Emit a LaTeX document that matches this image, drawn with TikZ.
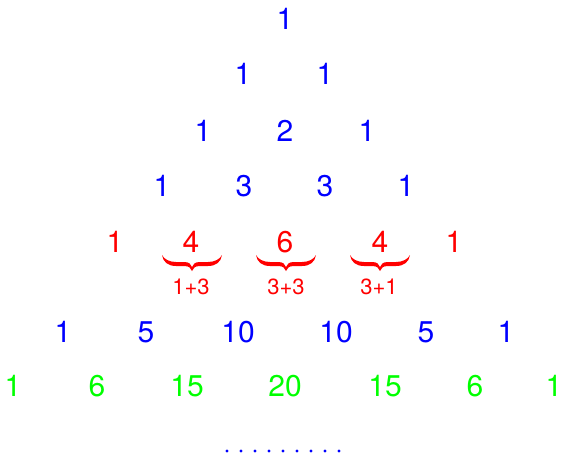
\documentclass[tikz,border=0pt]{standalone}
\usepackage{fontspec}
\setmainfont{TeX Gyre Heros}
\begin{document}
\begin{tikzpicture}[x=1pt,y=-1pt,
  num/.style={anchor=base,inner sep=0pt,font=\fontsize{30}{36}\selectfont},
  bl/.style={num,text=blue},
  rd/.style={num,text=red},
  gr/.style={num,text=green},
  sub/.style={anchor=base,inner sep=0pt,text=red,font=\fontsize{22}{26}\selectfont},
  ubrace/.pic={\fill[red] (-30,0) .. controls (-29,7) and (-24,11) .. (-16,11) -- (-8,11)
      .. controls (-3,11) and (-1,13) .. (0,16)
      .. controls (1,13) and (3,11) .. (8,11) -- (16,11)
      .. controls (24,11) and (29,7) .. (30,0)
      .. controls (28,4) and (23,7) .. (16,7) -- (8,7)
      .. controls (3,7) and (1,9) .. (0,12)
      .. controls (-1,9) and (-3,7) .. (-8,7) -- (-16,7)
      .. controls (-23,7) and (-28,4) .. (-30,0) -- cycle;},
  dotm/.style={circle,fill=blue,inner sep=0pt,minimum size=3.2pt}]
\useasboundingbox (0,0) rectangle (564,456);
% row 0
\node[bl] (a00) at (285,29) {1};
% row 1
\node[bl] (a10) at (243,84) {1};
\node[bl] (a11) at (325,84) {1};
% row 2
\node[bl] (a20) at (203,141) {1};
\node[bl] (a21) at (285,141) {2};
\node[bl] (a22) at (367,141) {1};
% row 3
\node[bl] (a30) at (162,196) {1};
\node[bl] (a31) at (244,196) {3};
\node[bl] (a32) at (325,196) {3};
\node[bl] (a33) at (406,196) {1};
% row 4
\node[rd] (a40) at (115,252) {1};
\node[rd] (a41) at (191,252) {4};
\node[rd] (a42) at (285,252) {6};
\node[rd] (a43) at (380,252) {4};
\node[rd] (a44) at (454,252) {1};
% braces
\pic (b1) at (192,255) {ubrace};
\pic (b2) at (286,255) {ubrace};
\pic (b3) at (380,255) {ubrace};
\node[sub] (s1) at (191,294) {1+3};
\node[sub] (s2) at (286,294) {3+3};
\node[sub] (s3) at (379,294) {3+1};
% row 5
\node[bl] (a50) at (63,342) {1};
\node[bl] (a51) at (146,342) {5};
\node[bl] (a52) at (238,342) {10};
\node[bl] (a53) at (336,342) {10};
\node[bl] (a54) at (426,342) {5};
\node[bl] (a55) at (506,342) {1};
% row 6
\node[gr] (a60) at (13,396) {1};
\node[gr] (a61) at (97,396) {6};
\node[gr] (a62) at (187,396) {15};
\node[gr] (a63) at (285,396) {20};
\node[gr] (a64) at (385,396) {15};
\node[gr] (a65) at (475,396) {6};
\node[gr] (a66) at (554,396) {1};
% dots
\foreach \i in {0,...,8} {\node[dotm] (d\i) at ({227+14*\i},451) {};}
\end{tikzpicture}
\end{document}
